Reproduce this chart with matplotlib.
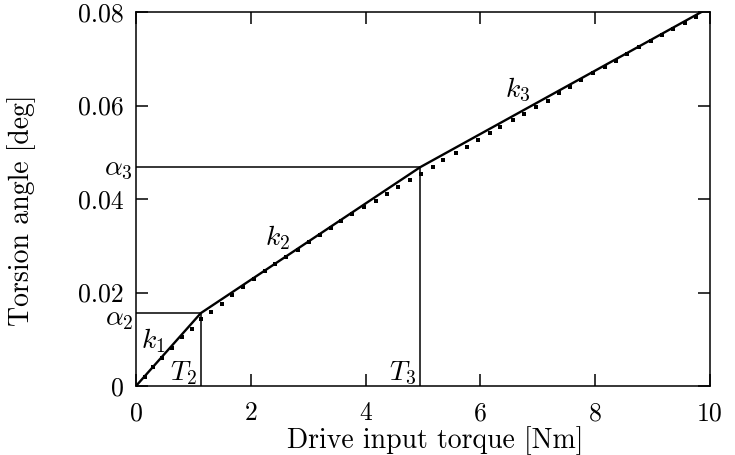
import numpy as np
import matplotlib
matplotlib.use("Agg")
import matplotlib.pyplot as plt

plt.rcParams["font.family"] = "serif"
plt.rcParams["font.serif"] = ["cmr10"]
plt.rcParams["mathtext.fontset"] = "cm"
plt.rcParams["axes.formatter.use_mathtext"] = True

# piecewise-linear model: breakpoints (torque [Nm], angle [deg])
model_T = [0.0, 1.13, 4.95, 9.85]
model_a = [0.0, 0.0156, 0.0468, 0.0800]

# measured points
meas_T = [0.00, 0.15, 0.30, 0.46, 0.62, 0.80, 0.97, 1.13, 1.31, 1.49,
          1.67, 1.86, 2.05, 2.24, 2.43, 2.62, 2.82, 3.01, 3.20, 3.39,
          3.58, 3.77, 3.97, 4.18, 4.37, 4.57, 4.77, 4.96, 5.17, 5.35,
          5.57, 5.76, 5.95, 6.17, 6.35, 6.56, 6.76, 6.97, 7.17, 7.37,
          7.56, 7.76, 7.97, 8.17, 8.36, 8.56, 8.77, 8.97, 9.16, 9.36,
          9.56, 9.76]
meas_a = [0.0000, 0.0019, 0.0040, 0.0061, 0.0081, 0.0104, 0.0123, 0.0143, 0.0159, 0.0175,
          0.0195, 0.0212, 0.0229, 0.0245, 0.0260, 0.0276, 0.0292, 0.0307, 0.0322, 0.0337,
          0.0353, 0.0369, 0.0383, 0.0396, 0.0411, 0.0426, 0.0441, 0.0453, 0.0469, 0.0483,
          0.0499, 0.0512, 0.0526, 0.0542, 0.0555, 0.0569, 0.0582, 0.0597, 0.0610, 0.0626,
          0.0640, 0.0655, 0.0669, 0.0682, 0.0696, 0.0710, 0.0725, 0.0738, 0.0751, 0.0764,
          0.0777, 0.0790]

xticks = [0, 2, 4, 6, 8, 10]
yticks = [0, 0.02, 0.04, 0.06, 0.08]
ytick_labels = ["0", "0.02", "0.04", "0.06", "0.08"]

FS_TICK = 18.5
FS = 20

fig = plt.figure(figsize=(7.35, 4.55), dpi=100)
ax = fig.add_axes([0.185, 0.1516, 0.781, 0.822])

# helper lines marking breakpoints
for T, a in zip(model_T[1:3], model_a[1:3]):
    ax.plot([0, T], [a, a], color="black", lw=1.1)
    ax.plot([T, T], [0, a], color="black", lw=1.1)

ax.plot(meas_T, meas_a, "s", color="black", ms=2.4, mew=0, zorder=3)
ax.plot(model_T, model_a, "-", color="black", lw=1.7, zorder=4)

ax.set_xlim(0, 10)
ax.set_ylim(0, 0.08)
ax.set_xticks(xticks)
ax.set_xticklabels([str(t) for t in xticks])
ax.set_yticks(yticks)
ax.set_yticklabels(ytick_labels)
ax.tick_params(direction="in", length=8.5, width=1.1, top=True, right=True,
               labelsize=FS_TICK)
ax.tick_params(axis="x", pad=11)
ax.tick_params(axis="y", pad=9)
for s in ax.spines.values():
    s.set_linewidth(1.1)

ax.set_xlabel("Drive input torque [Nm]", fontsize=FS)
ax.set_ylabel("Torsion angle [deg]", fontsize=FS)
ax.xaxis.set_label_coords(0.521, -0.108)
ax.yaxis.set_label_coords(-0.174, 0.47)

# annotations
ax.text(-0.05, model_a[1] - 0.0026, r"$\alpha_2$", fontsize=FS, ha="right", va="baseline")
ax.text(-0.05, model_a[2] - 0.0017, r"$\alpha_3$", fontsize=FS, ha="right", va="baseline")
ax.text(model_T[1] - 0.06, 0.0012, r"$T_2$", fontsize=FS, ha="right", va="baseline")
ax.text(model_T[2] - 0.06, 0.0012, r"$T_3$", fontsize=FS, ha="right", va="baseline")
ax.text(0.30, 0.0098, r"$k_1$", fontsize=FS, ha="center", va="center")
ax.text(2.46, 0.0317, r"$k_2$", fontsize=FS, ha="center", va="center")
ax.text(6.65, 0.0633, r"$k_3$", fontsize=FS, ha="center", va="center")

fig.savefig("out.png", dpi=100)
